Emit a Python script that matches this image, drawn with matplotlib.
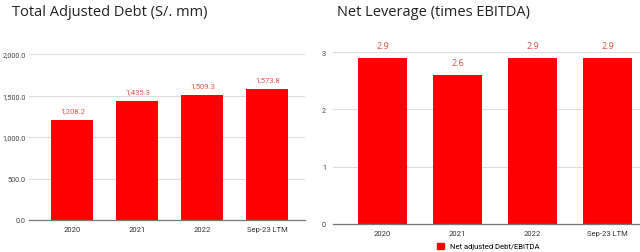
import matplotlib.pyplot as plt
from matplotlib.patches import Patch

categories = ["2020", "2021", "2022", "Sep-23 LTM"]
debt = [1208.2, 1435.3, 1509.3, 1573.8]
leverage = [2.9, 2.6, 2.9, 2.9]
debt_ticks = [0, 500, 1000, 1500, 2000]
lev_ticks = [0, 1, 2, 3]

plt.rcParams['font.family'] = ['Open Sans', 'DejaVu Sans']
small = ['Roboto', 'DejaVu Sans']

fig = plt.figure(figsize=(6.4, 2.53), dpi=100)
W, H = 640, 253


def px_axes(x0, x1, ytop, ybot):
    return fig.add_axes([x0 / W, 1 - ybot / H, (x1 - x0) / W, (ybot - ytop) / H])


def style(ax, ticks, fmt):
    ax.set_yticks(ticks)
    ax.set_yticklabels([fmt(t) for t in ticks], fontsize=5.2, color="#444444", family=small)
    ax.set_xticks(range(len(categories)))
    ax.set_xticklabels(categories, fontsize=5.5, color="#333333", family=small)
    ax.tick_params(length=0, pad=4)
    ax.tick_params(axis="y", pad=2.5)
    for s in ["top", "right", "left"]:
        ax.spines[s].set_visible(False)
    ax.spines["bottom"].set_color("#777777")
    ax.spines["bottom"].set_linewidth(0.9)
    ax.grid(axis="y", color="#dddddd", linewidth=0.8)
    ax.set_axisbelow(True)


# left: total adjusted debt
ax1 = px_axes(29, 305, 55, 221)
ax1.bar(range(len(categories)), debt, width=0.646, color="#ff0000", zorder=2)
ax1.set_ylim(0, 2000)
ax1.set_xlim(-0.669, 3.577)
style(ax1, debt_ticks, lambda t: f"{t:,.1f}")
for i, v in enumerate(debt):
    ax1.annotate(f"{v:,.1f}", (i, v), xytext=(0, 5), textcoords="offset points",
                 ha="center", va="bottom", fontsize=5.5, color="#e8534f", family=small)

# right: net leverage
ax2 = px_axes(333, 640, 53, 225)
ax2.bar(range(len(categories)), leverage, width=0.647, color="#ff0000", zorder=2)
ax2.set_ylim(0, 3)
ax2.set_xlim(-0.66, 3.43)
style(ax2, lev_ticks, lambda t: f"{t:d}")
ax2.tick_params(axis="y", pad=5)
for i, v in enumerate(leverage):
    ax2.annotate(f"{v:.1f}", (i, v), xytext=(0, 5.5), textcoords="offset points",
                 ha="center", va="bottom", fontsize=6.5, color="#e8534f")

fig.text(12 / W, 1 - 13 / H, "Total Adjusted Debt (S/. mm)", fontsize=10.5,
         color="#222222", va="center", ha="left")
fig.text(337 / W, 1 - 13 / H, "Net Leverage (times EBITDA)", fontsize=10.5,
         color="#222222", va="center", ha="left")

fig.legend(handles=[Patch(color="#ff0000", label="Net adjusted Debt/EBITDA")],
           loc="center", bbox_to_anchor=(488 / W, 1 - 247 / H), frameon=False,
           prop={"family": small, "size": 5.5}, handlelength=0.9, handleheight=0.9,
           handletextpad=0.8)

fig.savefig("out.png", dpi=100)
